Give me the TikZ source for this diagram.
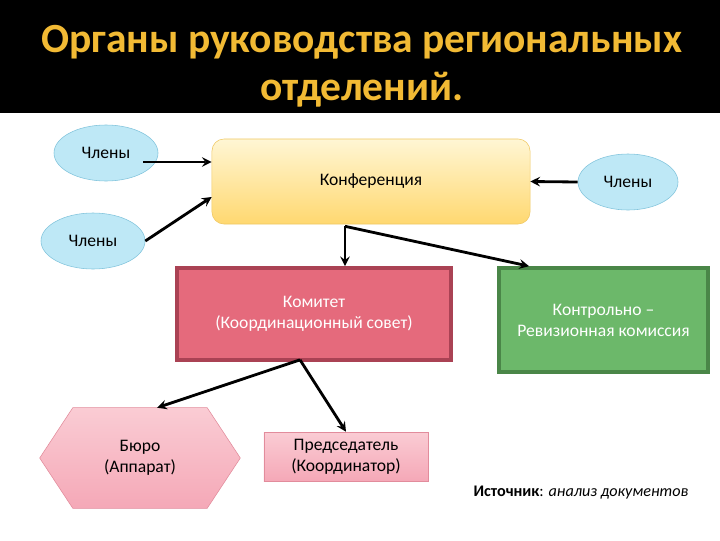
\documentclass[tikz,border=0pt]{standalone}
\usepackage{fontspec}
\setmainfont{Carlito}
\usetikzlibrary{arrows,positioning,shapes.geometric,calc,backgrounds}

\definecolor{titleyellow}{RGB}{242,186,52}
\definecolor{memberfill}{RGB}{190,232,246}
\definecolor{memberline}{RGB}{130,196,220}
\definecolor{conftop}{RGB}{255,246,212}
\definecolor{confbottom}{RGB}{255,216,112}
\definecolor{confline}{RGB}{240,200,100}
\definecolor{komfill}{RGB}{229,106,124}
\definecolor{komline}{RGB}{170,66,84}
\definecolor{revfill}{RGB}{108,184,106}
\definecolor{revline}{RGB}{74,134,72}
\definecolor{pinktop}{RGB}{250,204,212}
\definecolor{pinkbottom}{RGB}{245,168,183}
\definecolor{pinkline}{RGB}{226,140,156}

\begin{document}
\begin{tikzpicture}[
  x=0.025cm, y=-0.025cm,
  every node/.style={font=\fontsize{12.5}{15}\selectfont, align=center, inner sep=1pt},
  member/.style={ellipse, draw=memberline, fill=memberfill, minimum width=2.6cm, minimum height=1.4cm},
  conf/.style={rectangle, rounded corners=0.3cm, draw=confline, top color=conftop, bottom color=confbottom, minimum width=7.95cm, minimum height=2.125cm},
  board/.style={rectangle, draw=komline, line width=2.6pt, fill=komfill, text=white, minimum width=6.85cm, minimum height=2.3cm},
  audit/.style={rectangle, draw=revline, line width=2.6pt, fill=revfill, text=white, minimum width=5.225cm, minimum height=2.6cm},
  chair/.style={rectangle, draw=pinkline, top color=pinktop, bottom color=pinkbottom, minimum width=4.1cm, minimum height=1.225cm},
  link/.style={draw, ->, >=stealth, line width=2pt}
]
\useasboundingbox (0,0) rectangle (720,540);
\fill[black] (0,0) rectangle (720,113);
\node[text=titleyellow, font=\fontsize{29.5}{34}\selectfont\bfseries] (title) at (362,66)
  {Органы руководства региональных\\отделений.};

% members
\node[member] (m1) at (106,153) {Члены};
\node[member] (m2) at (93,241) {Члены};
\node[member, minimum width=2.5cm] (m3) at (628,182) {Члены};

% main bodies
\node[conf] (conf) at (371,181.5) {Конференция};
\node[board] (kom) at (314,314) {Комитет\\(Координационный совет)};
\node[audit] (rev) at (603.5,320) {Контрольно --\\Ревизионная комиссия};
\node[minimum width=5cm, minimum height=2.5cm] (buro) at (140,458) {Бюро\\(Аппарат)};
\node[chair] (pred) at (346,456.5) {Председатель\\(Координатор)};

\begin{scope}[on background layer]
  \path[draw=pinkline, top color=pinktop, bottom color=pinkbottom]
    (buro.west) -- ($(buro.north west)!0.165!(buro.north east)$)
    -- ($(buro.north east)!0.165!(buro.north west)$) -- (buro.east)
    -- ($(buro.south east)!0.165!(buro.south west)$)
    -- ($(buro.south west)!0.165!(buro.south east)$) -- cycle;
\end{scope}

\node[font=\fontsize{11.5}{14}\selectfont] (src) at (581,493) {\textbf{Источник}: \textit{анализ документов}};

% connectors
\coordinate (cj) at ($(conf.south)+(-26,2)$);
\coordinate (kj) at ($(kom.south)+(-14,-2)$);
\draw[link] ($(m1.center)+(37,9)$) -- ($(conf.west)+(0,-19.5)$);
\draw[link] (m2.east) -- ($(conf.west)+(0,15.5)$);
\draw[link] (m3.west) -- (conf.east);
\draw[link] (cj) -- (cj |- kom.north);
\draw[link] (cj) -- ($(rev.north west)!0.15!(rev.north east)$);
\draw[link] (kj) -- ($(buro.north west)!0.585!(buro.north east)$);
\draw[link] (kj) -- (pred.north);
\end{tikzpicture}
\end{document}
